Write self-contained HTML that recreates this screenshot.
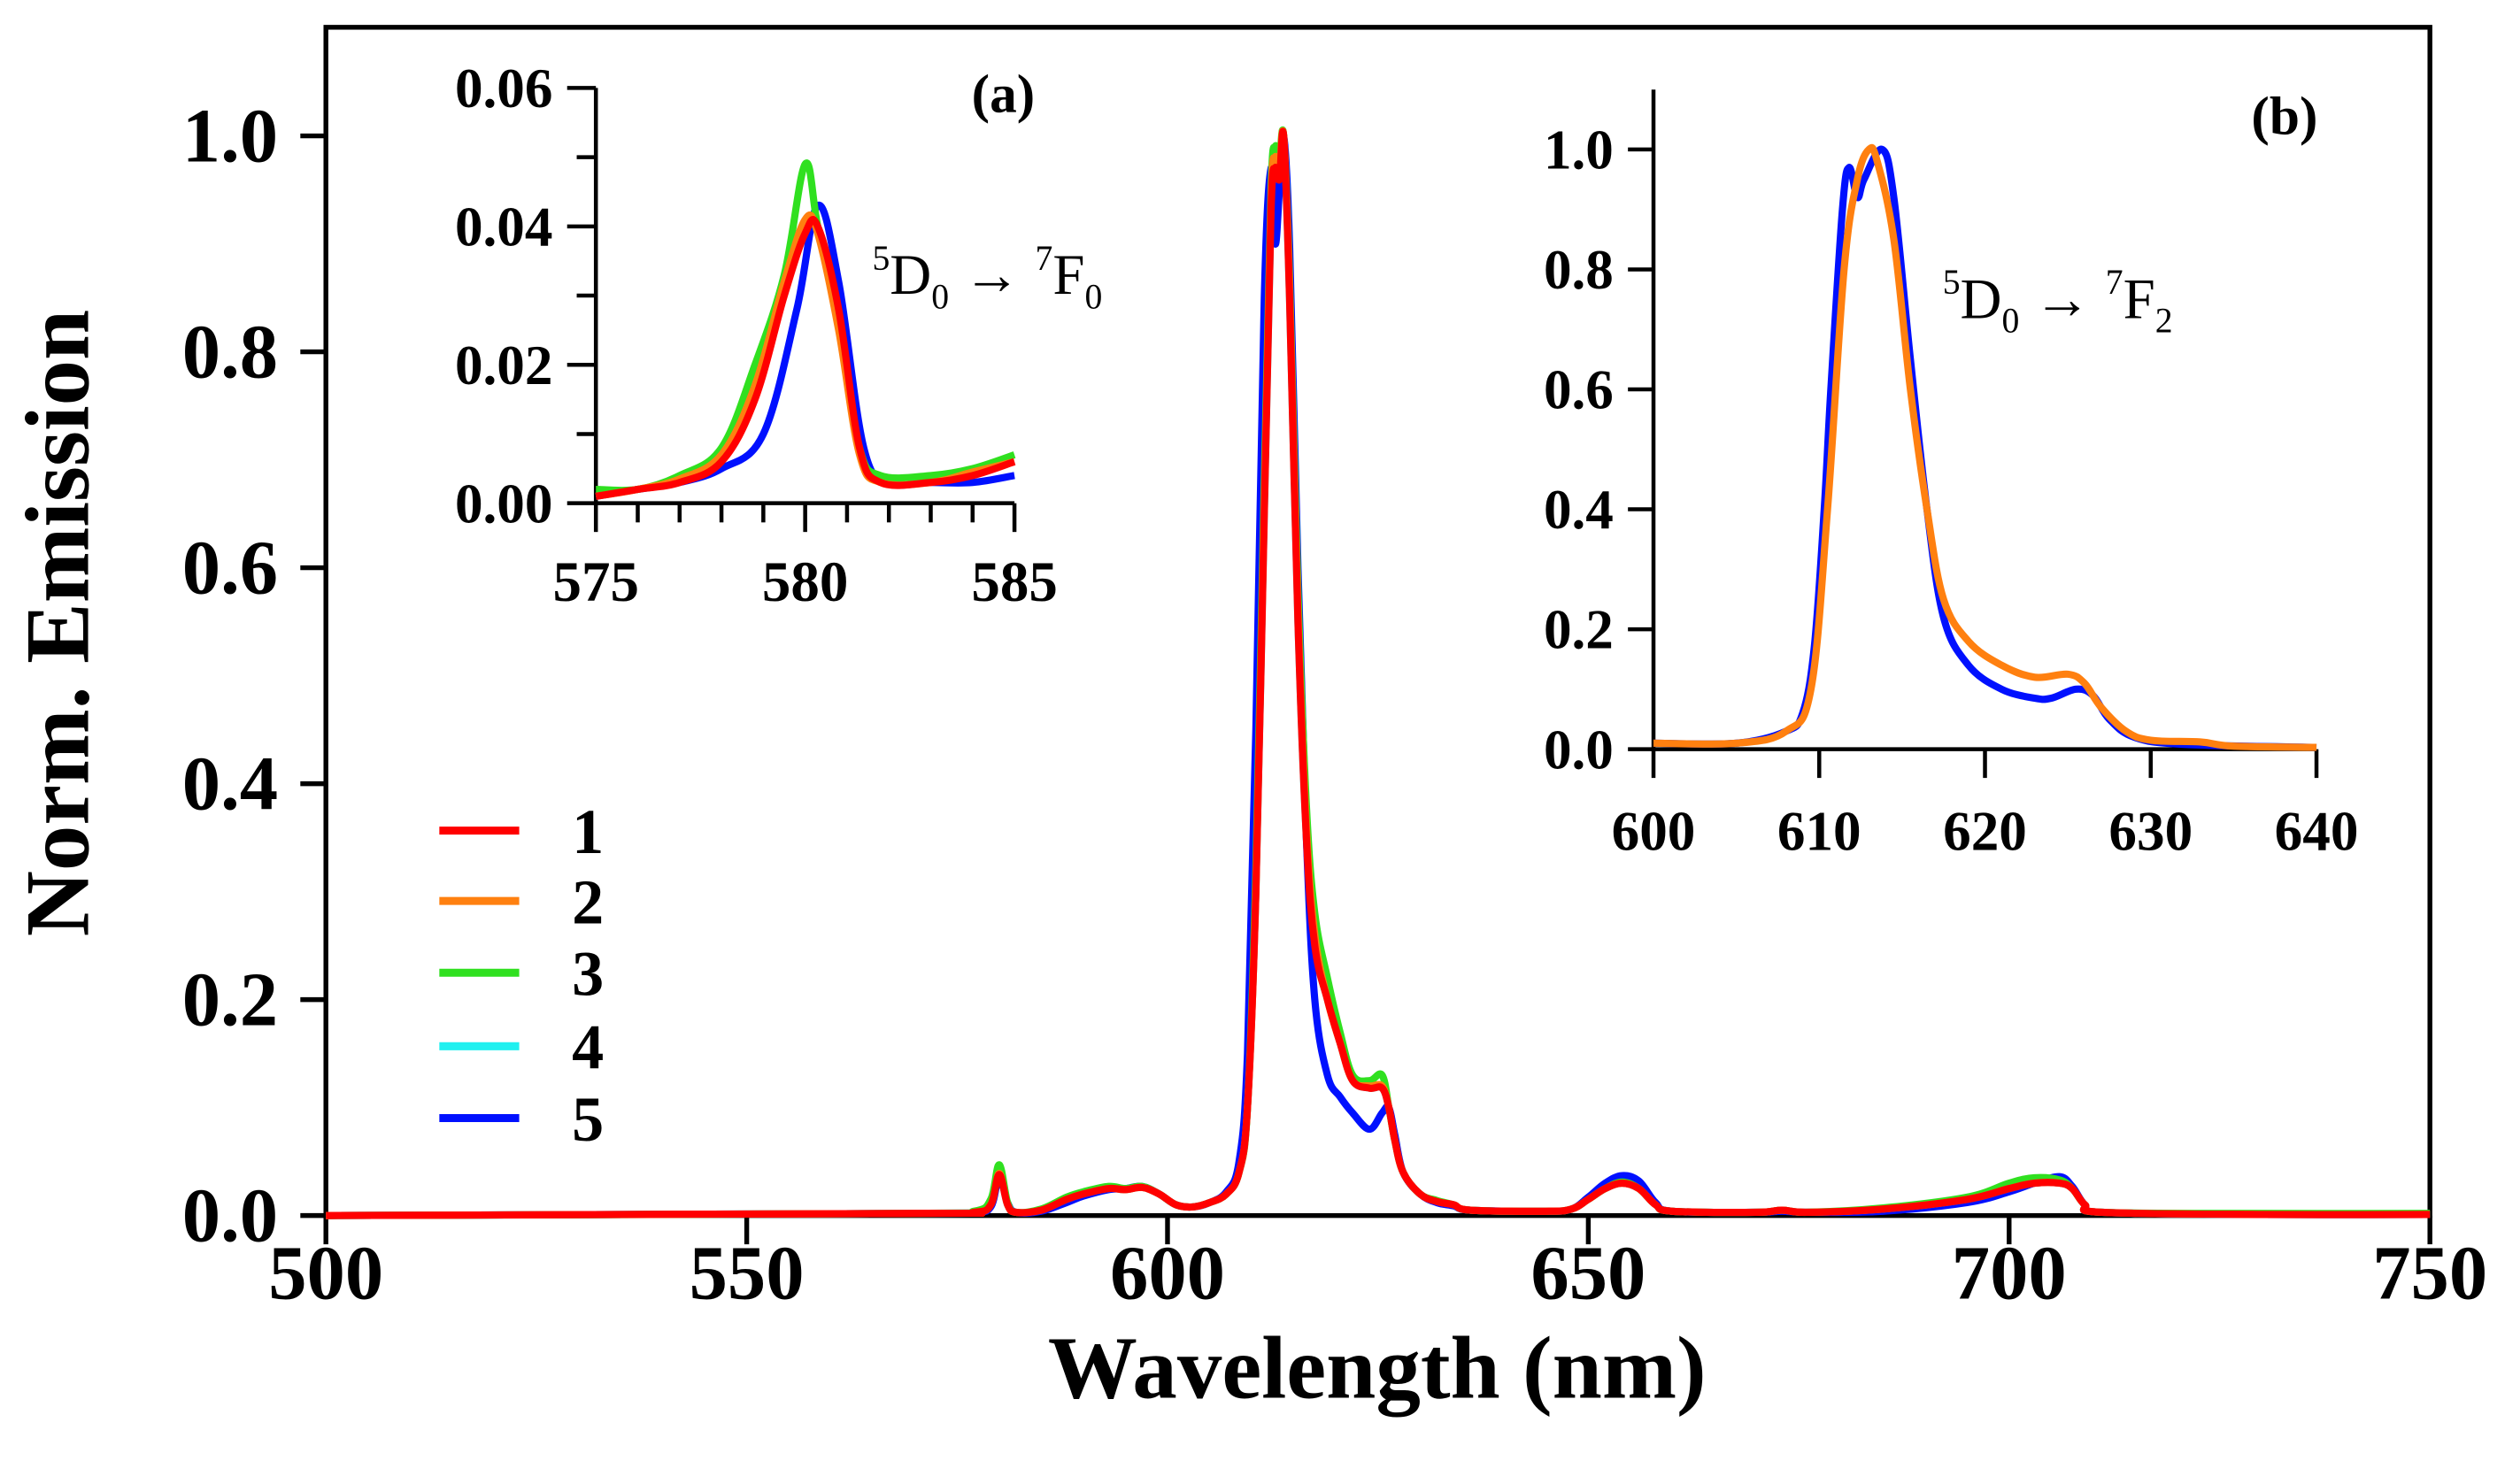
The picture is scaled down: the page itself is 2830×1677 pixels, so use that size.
<!DOCTYPE html>
<html><head><meta charset="utf-8"><title>Norm. Emission spectra</title>
<style>
html,body{margin:0;padding:0;background:#fff;}
svg{display:block;}
text{font-family:"Liberation Serif",serif;font-weight:bold;fill:#000;}
.ann{font-weight:normal;}
</style></head>
<body>
<svg id="chart" width="2830" height="1677" viewBox="0 0 1568 929" xmlns="http://www.w3.org/2000/svg">
<g id="main"></g>
<g id="insetA"></g>
<g id="insetB"></g>
<g id="legend"></g>
</svg>
<script>
// ---- data ----
const seriesNames = ["1","2","3","4","5"];
const seriesColors = ["#ff0000","#ff8010","#30e020","#20f0f0","#0010ff"];
const mainXTicks = [500,550,600,650,700,750];
const mainYTicks = [0.0,0.2,0.4,0.6,0.8,1.0];
const mainWl = [500,570,577,579,580,581,582,585,588,590,593,595,597,599,601,603,605,607,608.5,609.5,610.5,611.5,612.3,612.8,613.3,613.8,614.5,615.5,616.5,617.5,619,620.5,622,624,625.5,626.3,627,628,630,632,634,636,645,648,650,652,654,656,658,660,670,673,676,685,695,700,703,706,707.5,709,711,730,750];
const mainRed   = [0,0.002,0.003,0.01,0.038,0.01,0.003,0.005,0.015,0.02,0.025,0.024,0.026,0.02,0.01,0.008,0.012,0.02,0.04,0.1,0.3,0.65,0.93,0.97,0.96,1.0,0.85,0.55,0.35,0.25,0.2,0.16,0.125,0.118,0.118,0.1,0.07,0.04,0.02,0.013,0.01,0.005,0.004,0.006,0.015,0.025,0.03,0.025,0.01,0.004,0.003,0.005,0.003,0.006,0.015,0.025,0.03,0.03,0.025,0.01,0.003,0.001,0.001];
const mainOrange= [0,0.002,0.003,0.01,0.039,0.01,0.003,0.005,0.015,0.02,0.025,0.024,0.026,0.02,0.01,0.008,0.012,0.02,0.04,0.1,0.3,0.66,0.94,0.98,0.97,1.0,0.86,0.56,0.36,0.26,0.2,0.16,0.125,0.12,0.12,0.1,0.07,0.04,0.02,0.013,0.01,0.005,0.004,0.006,0.015,0.025,0.03,0.025,0.01,0.004,0.003,0.005,0.003,0.006,0.015,0.025,0.03,0.03,0.025,0.01,0.003,0.001,0.001];
const mainGreen = [0,0.002,0.004,0.015,0.047,0.012,0.003,0.006,0.017,0.022,0.027,0.025,0.027,0.02,0.01,0.008,0.012,0.02,0.04,0.1,0.32,0.68,0.95,0.99,0.98,1.0,0.87,0.58,0.38,0.28,0.22,0.17,0.13,0.125,0.13,0.1,0.07,0.04,0.02,0.014,0.01,0.005,0.004,0.006,0.015,0.025,0.031,0.025,0.01,0.004,0.003,0.005,0.003,0.007,0.017,0.03,0.035,0.033,0.025,0.01,0.003,0.002,0.002];
const mainBlue  = [0,0.002,0.003,0.008,0.035,0.012,0.003,0.004,0.012,0.018,0.024,0.025,0.027,0.02,0.01,0.008,0.012,0.022,0.05,0.15,0.45,0.85,0.97,0.9,0.95,1.0,0.9,0.6,0.35,0.2,0.13,0.11,0.095,0.08,0.095,0.1,0.075,0.04,0.02,0.012,0.009,0.005,0.004,0.006,0.017,0.03,0.037,0.032,0.012,0.004,0.003,0.004,0.003,0.004,0.012,0.022,0.03,0.036,0.027,0.01,0.003,0.001,0.001];
const mainCyan = mainRed;

const aXTicks = [575,580,585];
const aYTicks = [0.00,0.02,0.04,0.06];
const aWl = [575,576,577,578,578.8,579.5,580,580.3,580.8,581.3,581.8,583,584,585];
const aRed    = [0.001,0.002,0.003,0.006,0.015,0.03,0.039,0.04,0.028,0.008,0.003,0.003,0.004,0.006];
const aOrange = [0.001,0.002,0.0035,0.007,0.017,0.032,0.041,0.039,0.025,0.007,0.003,0.003,0.0045,0.006];
const aGreen  = [0.002,0.002,0.004,0.008,0.02,0.033,0.049,0.04,0.026,0.008,0.004,0.004,0.005,0.007];
const aBlueWl = [575,576,577,578,579,579.8,580.3,580.8,581.4,582,583,584,585];
const aBlue   = [0.001,0.002,0.003,0.005,0.01,0.028,0.043,0.032,0.008,0.003,0.003,0.003,0.004];

const bXTicks = [600,610,620,630,640];
const bYTicks = [0.0,0.2,0.4,0.6,0.8,1.0];
const bWlOr = [600,605,608,609.5,610.5,611.5,612.3,613,613.5,614.5,615.5,616.5,617.5,619,621,623,625,626,627,628.5,630,633,635,640];
const bOrange = [0.01,0.01,0.03,0.1,0.4,0.8,0.95,1.0,0.98,0.85,0.6,0.4,0.25,0.18,0.14,0.12,0.125,0.11,0.07,0.03,0.015,0.012,0.005,0.003];
const bWlBl = [600,605,608,609,609.7,610.3,610.7,611.4,611.8,612.3,612.7,613.8,614.5,615.5,616.5,617.5,619,621,623,624,625.5,626.5,627.5,629,632,640];
const bBlue = [0.01,0.01,0.03,0.06,0.17,0.4,0.6,0.9,0.97,0.92,0.95,1.0,0.92,0.65,0.4,0.22,0.14,0.1,0.085,0.085,0.1,0.09,0.05,0.02,0.008,0.003];

// ---- drawing ----
const NS="http://www.w3.org/2000/svg";
function mk(parent,tag,attrs){const e=document.createElementNS(NS,tag);for(const k in attrs)e.setAttribute(k,attrs[k]);parent.appendChild(e);return e;}
function lin(d0,d1,r0,r1){return v=>r0+(v-d0)*(r1-r0)/(d1-d0);}
function pathD(xs,ys,sx,sy){
  const P=xs.map((x,i)=>[sx(x),sy(ys[i])]);
  let d='M'+P[0][0].toFixed(2)+','+P[0][1].toFixed(2);
  for(let i=0;i<P.length-1;i++){
    const p0=P[Math.max(0,i-1)],p1=P[i],p2=P[i+1],p3=P[Math.min(P.length-1,i+2)];
    const t=0.35;
    const c1=[p1[0]+(p2[0]-p0[0])*t/2, p1[1]+(p2[1]-p0[1])*t/2];
    const c2=[p2[0]-(p3[0]-p1[0])*t/2, p2[1]-(p3[1]-p1[1])*t/2];
    d+='C'+c1[0].toFixed(2)+','+c1[1].toFixed(2)+' '+c2[0].toFixed(2)+','+c2[1].toFixed(2)+' '+p2[0].toFixed(2)+','+p2[1].toFixed(2);
  }
  return d;
}

// main
const main=document.getElementById('main');
const mx=lin(500,750,204,1521), my=lin(0,1,761,85);
const frame=mk(main,'rect',{x:204,y:17,width:1317,height:744,fill:'none',stroke:'#000','stroke-width':3});


mainXTicks.forEach(t=>{
  const l=mk(main,'line',{x1:mx(t),x2:mx(t),y1:761,y2:779,stroke:'#000','stroke-width':3});
  
  
  const tx=mk(main,'text',{x:mx(t),y:813,'text-anchor':'middle','font-size':48});
  tx.textContent=t;
  
  
});
mainYTicks.forEach(t=>{
  const l=mk(main,'line',{x1:188,x2:204,y1:my(t),y2:my(t),stroke:'#000','stroke-width':3});
  
  
  const tx=mk(main,'text',{x:174,y:my(t)+16,'text-anchor':'end','font-size':48});
  tx.textContent=t.toFixed(1);
  
  
});
const xt=mk(main,'text',{x:862,y:875,'text-anchor':'middle','font-size':56});
xt.textContent='Wavelength (nm)';


const yt=mk(main,'text',{x:0,y:0,'text-anchor':'middle','font-size':57,transform:'translate(55,390) rotate(-90)'});
yt.textContent='Norm. Emission';


const mainSeries=[mainCyan,mainBlue,mainGreen,mainOrange,mainRed];
const mainIdx=[3,4,2,1,0];
mainSeries.forEach((ys,k)=>{
  const p=mk(main,'path',{d:pathD(mainWl,ys,mx,my),fill:'none',stroke:seriesColors[mainIdx[k]],'stroke-width':4.5,'stroke-linejoin':'round'});
  
  
});

// inset a
const ia=document.getElementById('insetA');
const ax=lin(575,585,373,635), ay=lin(0,0.06,315,55);
mk(ia,'path',{d:'M373,55L373,315L635,315',fill:'none',stroke:'#000','stroke-width':2.5});
for(let v=575;v<=585;v++){
  const major=aXTicks.includes(v);
  const l=mk(ia,'line',{x1:ax(v),x2:ax(v),y1:315,y2:major?333:327,stroke:'#000','stroke-width':2.5});
  
  
}
aXTicks.forEach(t=>{const tx=mk(ia,'text',{x:ax(t),y:376,'text-anchor':'middle','font-size':36});tx.textContent=t;
  
  });
for(let i=0;i<=6;i++){const v=i*0.01;
  const l=mk(ia,'line',{x1:i%2?361:355,x2:373,y1:ay(v),y2:ay(v),stroke:'#000','stroke-width':2.5});
  
  }
aYTicks.forEach(t=>{const tx=mk(ia,'text',{x:346,y:ay(t)+12,'text-anchor':'end','font-size':35});tx.textContent=t.toFixed(2);
  
  });
[[aBlueWl,aBlue,4],[aWl,aGreen,2],[aWl,aOrange,1],[aWl,aRed,0]].forEach(([xs,ys,c])=>{
  const p=mk(ia,'path',{d:pathD(xs,ys,ax,ay),fill:'none',stroke:seriesColors[c],'stroke-width':4.5,'stroke-linejoin':'round'});
  
  
});
const la=mk(ia,'text',{x:628,y:70,'text-anchor':'middle','font-size':34});la.textContent='(a)';


const anA=mk(ia,'text',{x:546,y:184,'font-size':36,'class':'ann'});
anA.innerHTML='<tspan dy="-15" font-size="22">5</tspan><tspan dy="15">D</tspan><tspan dy="9" font-size="22">0</tspan><tspan dy="-9"> → </tspan><tspan dy="-15" font-size="22">7</tspan><tspan dy="15">F</tspan><tspan dy="9" font-size="22">0</tspan>';



// inset b
const ib=document.getElementById('insetB');
const bx=lin(600,640,1035,1450), by=lin(0,1,469,93.5);
mk(ib,'path',{d:'M1035,56L1035,469L1450,469',fill:'none',stroke:'#000','stroke-width':2.5});
bXTicks.forEach(t=>{
  const l=mk(ib,'line',{x1:bx(t),x2:bx(t),y1:469,y2:487,stroke:'#000','stroke-width':2.5});
  
  
  const tx=mk(ib,'text',{x:bx(t),y:532,'text-anchor':'middle','font-size':35});tx.textContent=t;
  
  
});
bYTicks.forEach(t=>{
  const l=mk(ib,'line',{x1:1019,x2:1035,y1:by(t),y2:by(t),stroke:'#000','stroke-width':2.5});
  
  
  const tx=mk(ib,'text',{x:1010,y:by(t)+12,'text-anchor':'end','font-size':35});tx.textContent=t.toFixed(1);
  
  
});
[[bWlBl,bBlue,4],[bWlOr,bOrange,1]].forEach(([xs,ys,c])=>{
  const p=mk(ib,'path',{d:pathD(xs,ys,bx,by),fill:'none',stroke:seriesColors[c],'stroke-width':4.5,'stroke-linejoin':'round'});
  
  
});
const lb=mk(ib,'text',{x:1430,y:84,'text-anchor':'middle','font-size':34});lb.textContent='(b)';


const anB=mk(ib,'text',{x:1216,y:199,'font-size':36,'class':'ann'});
anB.innerHTML='<tspan dy="-15" font-size="22">5</tspan><tspan dy="15">D</tspan><tspan dy="9" font-size="22">0</tspan><tspan dy="-9"> → </tspan><tspan dy="-15" font-size="22">7</tspan><tspan dy="15">F</tspan><tspan dy="9" font-size="22">2</tspan>';



// legend
const lg=document.getElementById('legend');
const legY=[520,564,609,655,700];
seriesNames.forEach((n,i)=>{
  const l=mk(lg,'line',{x1:275,x2:325,y1:legY[i],y2:legY[i],stroke:seriesColors[i],'stroke-width':5});
  
  
  const t=mk(lg,'text',{x:358,y:legY[i]+14,'font-size':40});t.textContent=n;
  
  
});
</script>
</body></html>
